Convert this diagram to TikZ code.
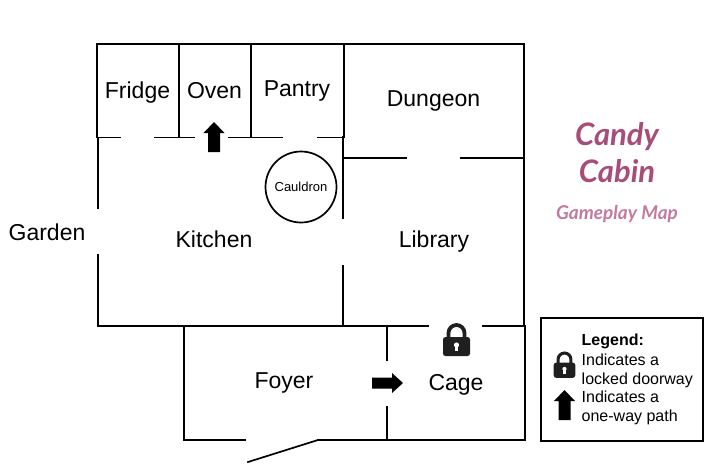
\documentclass[tikz,border=0pt]{standalone}
\usepackage{fontspec}
\setmainfont{Liberation Sans}
\newfontfamily\titlefont{Lato}
\definecolor{titlea}{HTML}{A64D79}
\definecolor{titleb}{HTML}{C27BA0}
\newcommand{\fsz}[1]{\fontsize{#1}{#1}\selectfont}
\tikzset{
  wall/.style={draw=black,line width=1.7pt,line cap=rect},
  room/.style={font=\fsz{23},inner sep=0pt,anchor=base},
  keytext/.style={font=\fsz{16},inner sep=0pt,anchor=base west},
  fat arrow/.style={fill=black,draw=none},
  lockbody/.style={fill=black!88,draw=none,rounded corners=2.5pt},
}
\newcommand{\lockicon}[2]{% centre, scale
  \begin{scope}[shift={#1},scale=#2]
    \draw[black!88,line width=#2*3.8pt] (-8,-2) -- (-8,-7) arc[start angle=180,end angle=360,x radius=8,y radius=8] -- (8,-2);
    \path[lockbody] (-13.5,-3) rectangle (13.5,16);
    \fill[white] (0,5) circle[radius=2.6];
    \fill[white] (-1.3,5) rectangle (1.3,11);
  \end{scope}}
\newcommand{\uparr}[1]{%
  \begin{scope}[shift={#1}]
    \path[fat arrow] (0,0) -- (10.5,11) -- (6,11) -- (6,30) -- (-6,30) -- (-6,11) -- (-10.5,11) -- cycle;
  \end{scope}}
\begin{document}
\begin{tikzpicture}[x=1pt,y=-1pt]
\useasboundingbox (0,0) rectangle (718,474);
% outer top and rooms
\draw[wall] (97,137.5) -- (97,44) -- (524,44) -- (524,326);
\draw[wall] (179,44) -- (179,137.5);
\draw[wall] (251,44) -- (251,137.5);
\draw[wall] (344,44) -- (344,137.5);
% kitchen top wall
\draw[wall] (97,137.5) -- (120,137.5);
\draw[wall] (155,137.5) -- (194,137.5);
\draw[wall] (229,137.5) -- (282.5,137.5);
\draw[wall] (318,137.5) -- (343.5,137.5);
% kitchen sides
\draw[wall] (98,137.5) -- (98,208);
\draw[wall] (98,255) -- (98,326) -- (428,326);
\draw[wall,line width=2.2pt] (343,137.5) -- (343,218);
\draw[wall,line width=2.2pt] (343,266) -- (343,326);
% dungeon bottom
\draw[wall] (343,158) -- (406,158);
\draw[wall] (461,158) -- (524,158);
% cage / foyer
\draw[wall] (483,326) -- (525,326) -- (525,440) -- (318,440);
\draw[wall] (184,326) -- (184,440) -- (245,440);
\draw[wall] (387,326) -- (387,360);
\draw[wall] (387,407) -- (387,440);
\draw[wall] (248,462) -- (318,440);
% cauldron
\node[draw=black,line width=1.7pt,circle,minimum size=71pt,inner sep=0pt,font=\fsz{13}] (cauldron) at (301,187) {Cauldron};
% room labels
\node[room] (fridge) at (137.5,98) {Fridge};
\node[room] (oven) at (214.5,98) {Oven};
\node[room] (pantry) at (297,96) {Pantry};
\node[room] (dungeon) at (433.5,106) {Dungeon};
\node[room] (garden) at (47,240) {Garden};
\node[room] (kitchen) at (214,247) {Kitchen};
\node[room] (library) at (434,247) {Library};
\node[room] (foyer) at (284,388) {Foyer};
\node[room] (cage) at (456,390) {Cage};
% markers
\lockicon{(456.5,340)}{1}
\uparr{(214,122)}
\begin{scope}[shift={(403,383)}]
  \path[fat arrow] (0,0) -- (-11,-10) -- (-11,-5.5) -- (-31,-5.5) -- (-31,5.5) -- (-11,5.5) -- (-11,10) -- cycle;
\end{scope}
% title
\node[font=\titlefont\bfseries\itshape\fsz{31},text=titlea,align=center,inner sep=0pt] (title) at (617,153) {Candy\\[6pt]Cabin};
\node[font=\titlefont\bfseries\itshape\fsz{19},text=titleb,inner sep=0pt] (subtitle) at (617,214) {Gameplay Map};
% legend
\node[draw=black,line width=1.7pt,minimum width=162pt,minimum height=123pt,inner sep=0pt] (legend) at (622,379.5) {};
\node[keytext,font=\fsz{16}\bfseries] (lega) at (581.5,345) {Legend:};
\node[keytext] (legb) at (581.5,365) {Indicates a};
\node[keytext] (legc) at (581.5,384) {locked doorway};
\node[keytext] (legd) at (581.5,402) {Indicates a};
\node[keytext] (lege) at (581.5,421) {one-way path};
\lockicon{(564.5,365)}{0.8}
\uparr{(564.5,390)}
\end{tikzpicture}
\end{document}
